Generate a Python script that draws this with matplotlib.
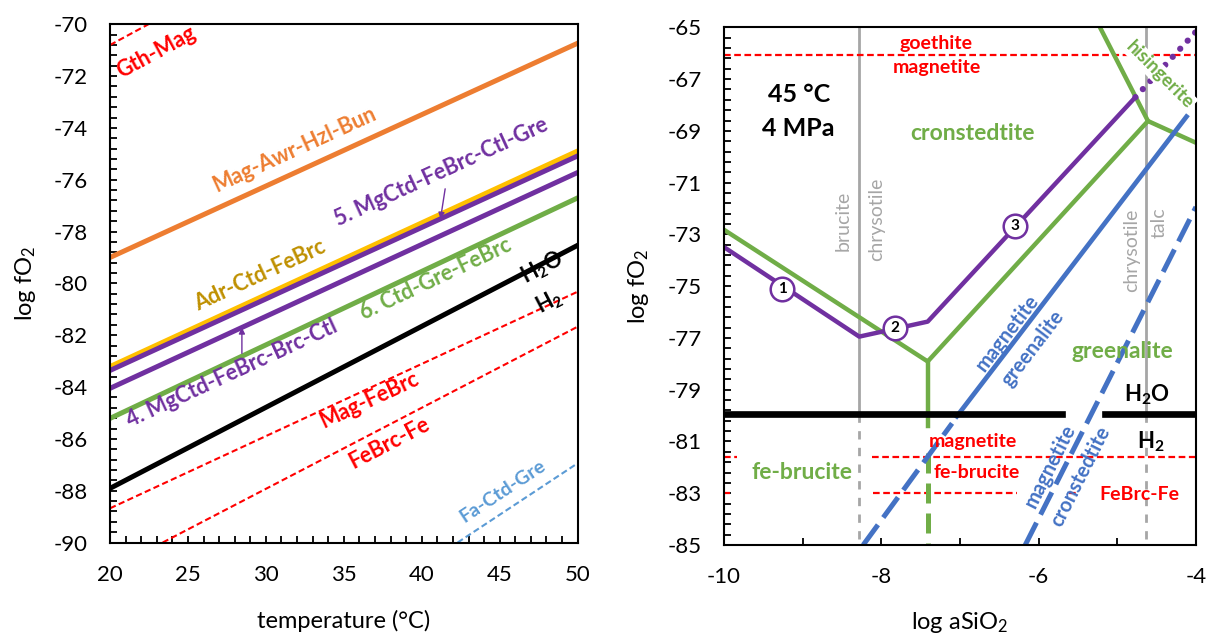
import matplotlib
matplotlib.use("Agg")
import matplotlib.pyplot as plt
from matplotlib.ticker import FixedLocator, MultipleLocator
import numpy as np

plt.rcParams["font.family"] = ["Lato", "DejaVu Sans"]
plt.rcParams["mathtext.fontset"] = "custom"
plt.rcParams["mathtext.rm"] = "Lato"
plt.rcParams["mathtext.it"] = "Lato:italic"
plt.rcParams["mathtext.bf"] = "Lato:bold"
plt.rcParams["axes.unicode_minus"] = False

ORANGE = "#ed7d31"
YELLOW = "#ffc000"
GOLD = "#bf9000"
PURPLE = "#7030a0"
GREEN = "#70ad47"
RED = "#ff0000"
LBLUE = "#5b9bd5"
BLUE = "#4472c4"
GRAY = "#a6a6a6"
RED_DASH = (0, (3, 1.6))

# ---- left panel: log fO2 vs temperature, straight reaction lines ----
temp = [20, 50]
mag_awr_hzl_bun = [-79.0, -70.73]
adr_ctd_febrc = [-83.21, -74.89]
mgctd_5 = [-83.36, -75.08]
mgctd_4 = [-84.05, -75.72]
ctd_gre_febrc = [-85.21, -76.70]
h2o_h2 = [-87.91, -78.53]
mag_febrc = [-88.68, -80.32]
gth_mag_t = [20, 22.46]
gth_mag = [-70.8, -70.0]
febrc_fe_t = [23.38, 50]
febrc_fe = [-90.0, -81.67]
fa_ctd_gre_t = [42.3, 50]
fa_ctd_gre = [-90.0, -86.94]

# ---- right panel: log fO2 vs log aSiO2 at 45 C, 4 MPa ----
purple_x = [-10, -8.28, -7.41, -4.77]
purple_y = [-73.49, -76.95, -76.37, -67.70]
purple_dot_x = [-4.77, -4.0]
purple_dot_y = [-67.70, -65.17]
circle_x = [-9.26, -7.83, -6.30]
circle_y = [-75.10, -76.62, -72.68]
circle_num = ["1", "2", "3"]

green_x = [-10, -7.41, -4.61]
green_y = [-72.82, -77.91, -68.62]
green_top_x = [-5.22, -4.61, -4.0]
green_top_y = [-65.0, -68.62, -69.46]
green_vert_y = [-77.91, -80.39]
green_vert_dash_y = [-81.44, -85.0]
green_vert_x = -7.41

blue_x = [-7.04, -4.12]
blue_y = [-80.03, -68.45]
blue_dash1_x = [-8.23, -7.10]
blue_dash1_y = [-85.0, -80.30]
blue_dash2_x = [-6.17, -4.0]
blue_dash2_y = [-85.0, -71.94]

silica_x = [-8.28, -4.64]   # brucite/chrysotile and chrysotile/talc
h2o_level = -79.95
h2o_segments = [(-10, -5.70), (-5.16, -4.0)]
gth_level = -66.07
febrc_level = -81.60
febrc_segments = [(-10, -9.83), (-8.12, -4.0)]
fe_level = -83.0
fe_segments = [(-10, -9.92), (-8.10, -6.27), (-5.62, -5.50)]


def slope(x, y):
    return (y[1] - y[0]) / (x[1] - x[0])


def line_label(ax, text, x, y, k, color, size=15.5):
    ax.text(x, y, text, color=color, fontsize=size, fontweight="bold",
            rotation=np.degrees(np.arctan(k)), transform_rotates_text=True,
            rotation_mode="anchor", ha="center", va="center")


def style_axes(ax):
    for s in ax.spines.values():
        s.set_linewidth(1.5)
    ax.tick_params(which="both", direction="in", top=False, right=False,
                   length=5, width=1.3, labelsize=16, pad=16)


fig = plt.figure(figsize=(12.09, 6.34), dpi=100)
ax1 = fig.add_axes([0.0910, 0.1443, 0.3868, 0.8174])
ax2 = fig.add_axes([0.5988, 0.1404, 0.3904, 0.8165])

# left panel
ax1.plot(gth_mag_t, gth_mag, color=RED, lw=1.5, ls=RED_DASH)
ax1.plot(temp, mag_awr_hzl_bun, color=ORANGE, lw=3.6)
ax1.plot(temp, adr_ctd_febrc, color=YELLOW, lw=3.6)
ax1.plot(temp, mgctd_5, color=PURPLE, lw=3.6)
ax1.plot(temp, mgctd_4, color=PURPLE, lw=3.6)
ax1.plot(temp, ctd_gre_febrc, color=GREEN, lw=3.6)
ax1.plot(temp, h2o_h2, color="black", lw=3.6)
ax1.plot(temp, mag_febrc, color=RED, lw=1.5, ls=RED_DASH)
ax1.plot(febrc_fe_t, febrc_fe, color=RED, lw=1.5, ls=RED_DASH)
ax1.plot(fa_ctd_gre_t, fa_ctd_gre, color=LBLUE, lw=1.5, ls=RED_DASH)

line_label(ax1, "Gth-Mag", 22.95, -71.07, slope(gth_mag_t, gth_mag), RED)
line_label(ax1, "Mag-Awr-Hzl-Bun", 31.83, -74.82, slope(temp, mag_awr_hzl_bun), ORANGE)
line_label(ax1, "5. MgCtd-FeBrc-Ctl-Gre", 41.22, -75.69, slope(temp, mgctd_5), PURPLE)
line_label(ax1, "Adr-Ctd-FeBrc", 29.62, -79.68, slope(temp, adr_ctd_febrc), GOLD)
line_label(ax1, "6. Ctd-Gre-FeBrc", 40.91, -79.83, slope(temp, ctd_gre_febrc), GREEN)
line_label(ax1, r"H$_\mathbf{2}$O", 47.7, -79.4, slope(temp, h2o_h2), "black")
line_label(ax1, r"H$_\mathbf{2}$", 48.2, -80.73, slope(temp, h2o_h2), "black")
line_label(ax1, "4. MgCtd-FeBrc-Brc-Ctl", 27.85, -83.47, slope(temp, mgctd_4), PURPLE)
line_label(ax1, "Mag-FeBrc", 36.6, -84.5, slope(temp, mag_febrc), RED)
line_label(ax1, "FeBrc-Fe", 37.9, -86.16, slope(febrc_fe_t, febrc_fe), RED)
line_label(ax1, "Fa-Ctd-Gre", 45.2, -88.03, slope(fa_ctd_gre_t, fa_ctd_gre), LBLUE, size=14)

arrow = dict(arrowstyle="-|>", color=PURPLE, lw=1, mutation_scale=9,
             shrinkA=0, shrinkB=0)
ax1.annotate("", xy=(41.2, np.interp(41.2, temp, mgctd_5)),
             xytext=(41.5, -76.35), arrowprops=arrow)
ax1.annotate("", xy=(28.46, np.interp(28.46, temp, mgctd_4)),
             xytext=(28.46, -82.7), arrowprops=arrow)

ax1.set_xlim(20, 50)
ax1.set_ylim(-90, -70)
ax1.xaxis.set_major_locator(MultipleLocator(5))
ax1.xaxis.set_minor_locator(MultipleLocator(1))
ax1.yaxis.set_major_locator(MultipleLocator(2))
ax1.yaxis.set_minor_locator(FixedLocator(np.arange(-90, -69.9, 0.4)))
style_axes(ax1)
ax1.set_xlabel("temperature (°C)", fontsize=17)
ax1.set_ylabel(r"log fO$_2$", fontsize=17)
ax1.xaxis.set_label_coords(0.5, -0.151)
ax1.xaxis.label.set_va("center")
ax1.yaxis.set_label_coords(-0.18, 0.5)
ax1.yaxis.label.set_va("center")

# right panel
for x in silica_x:
    ax2.plot([x, x], [-65, h2o_level], color=GRAY, lw=2, zorder=1)
    ax2.plot([x, x], [h2o_level, -85], color=GRAY, lw=2, ls=(0, (3, 3)), zorder=1)

ax2.axhline(gth_level, color=RED, lw=1.6, ls=RED_DASH)
for x0, x1 in febrc_segments:
    ax2.plot([x0, x1], [febrc_level] * 2, color=RED, lw=1.6, ls=RED_DASH)
for x0, x1 in fe_segments:
    ax2.plot([x0, x1], [fe_level] * 2, color=RED, lw=1.6, ls=RED_DASH)
for x0, x1 in h2o_segments:
    ax2.plot([x0, x1], [h2o_level] * 2, color="black", lw=4.8, zorder=3)

ax2.plot(green_x, green_y, color=GREEN, lw=3.2, zorder=2)
ax2.plot(green_top_x, green_top_y, color=GREEN, lw=3.2, zorder=2)
ax2.plot([green_vert_x] * 2, green_vert_y, color=GREEN, lw=3.2, zorder=2)
ax2.plot([green_vert_x] * 2, green_vert_dash_y, color=GREEN, lw=3.6,
         ls=(0, (4, 2)), zorder=2)

ax2.plot(purple_x, purple_y, color=PURPLE, lw=3.2, zorder=2)
ax2.plot(purple_dot_x, purple_dot_y, color=PURPLE, lw=4.5,
         ls=(0, (0.01, 1.75)), dash_capstyle="round", zorder=2)

ax2.plot(blue_x, blue_y, color=BLUE, lw=3.4, zorder=2)
ax2.plot(blue_dash1_x, blue_dash1_y, color=BLUE, lw=3.6, ls=(0, (5, 1.8)), zorder=2)
ax2.plot(blue_dash2_x, blue_dash2_y, color=BLUE, lw=3.6, ls=(0, (5, 1.8)), zorder=2)

ax2.plot(circle_x, circle_y, "o", ms=17, mfc="white", mec=PURPLE, mew=1.8, zorder=5)
for cx, cy, n in zip(circle_x, circle_y, circle_num):
    ax2.text(cx, cy, n, fontsize=11, fontweight="bold", ha="center",
             va="center", zorder=6)

ax2.text(-7.30, -65.62, "goethite", color=RED, fontsize=14, fontweight="bold",
         ha="center", va="center")
ax2.text(-7.29, -66.54, "magnetite", color=RED, fontsize=14, fontweight="bold",
         ha="center", va="center")
ax2.text(-9.05, -67.6, "45 °C", fontsize=18, fontweight="bold", ha="center", va="center")
ax2.text(-9.05, -68.89, "4 MPa", fontsize=18, fontweight="bold", ha="center", va="center")
ax2.text(-6.84, -69.11, "cronstedtite", color=GREEN, fontsize=16.5,
         fontweight="bold", ha="center", va="center")
for x, y, s in [(-8.49, -72.46, "brucite"), (-8.06, -72.43, "chrysotile"),
                (-4.815, -73.61, "chrysotile"), (-4.47, -72.56, "talc")]:
    ax2.text(x, y, s, color=GRAY, fontsize=14, rotation=90, ha="center",
             va="center")
ax2.text(-4.46, -66.84, "hisingerite", color=GREEN, fontsize=13.5,
         fontweight="bold", rotation=-45, ha="center", va="center", zorder=4,
         bbox=dict(fc="white", ec="none", pad=1))
line_label(ax2, "magnetite", -6.40, -76.82, slope(blue_x, blue_y), BLUE, size=14.5)
line_label(ax2, "greenalite", -6.07, -77.40, slope(blue_x, blue_y), BLUE, size=14.5)
ax2.text(-4.94, -77.52, "greenalite", color=GREEN, fontsize=16.5,
         fontweight="bold", ha="center", va="center")
ax2.text(-4.62, -79.19, r"H$_\mathbf{2}$O", fontsize=16, fontweight="bold",
         ha="center", va="center")
ax2.text(-4.57, -81.0, r"H$_\mathbf{2}$", fontsize=16, fontweight="bold",
         ha="center", va="center")
ax2.text(-6.83, -81.0, "magnetite", color=RED, fontsize=14, fontweight="bold",
         ha="center", va="center")
ax2.text(-6.79, -82.19, "fe-brucite", color=RED, fontsize=14, fontweight="bold",
         ha="center", va="center")
ax2.text(-9.01, -82.21, "fe-brucite", color=GREEN, fontsize=16.5,
         fontweight="bold", ha="center", va="center")
ax2.text(-4.72, -83.05, "FeBrc-Fe", color=RED, fontsize=14, fontweight="bold",
         ha="center", va="center")
line_label(ax2, "magnetite", -5.85, -81.96, slope(blue_dash2_x, blue_dash2_y), BLUE, size=14.5)
line_label(ax2, "cronstedtite", -5.46, -82.34, slope(blue_dash2_x, blue_dash2_y), BLUE, size=14.5)

ax2.set_xlim(-10, -4)
ax2.set_ylim(-85, -65)
ax2.xaxis.set_major_locator(MultipleLocator(2))
ax2.xaxis.set_minor_locator(MultipleLocator(1))
ax2.yaxis.set_major_locator(FixedLocator(np.arange(-85, -64, 2)))
ax2.yaxis.set_minor_locator(FixedLocator(np.arange(-85, -64.9, 0.4)))
style_axes(ax2)
ax2.set_xlabel(r"log aSiO$_2$", fontsize=17)
ax2.set_ylabel(r"log fO$_2$", fontsize=17)
ax2.xaxis.set_label_coords(0.5, -0.149)
ax2.xaxis.label.set_va("center")
ax2.yaxis.set_label_coords(-0.181, 0.5)
ax2.yaxis.label.set_va("center")

fig.savefig("out.png", dpi=100)
